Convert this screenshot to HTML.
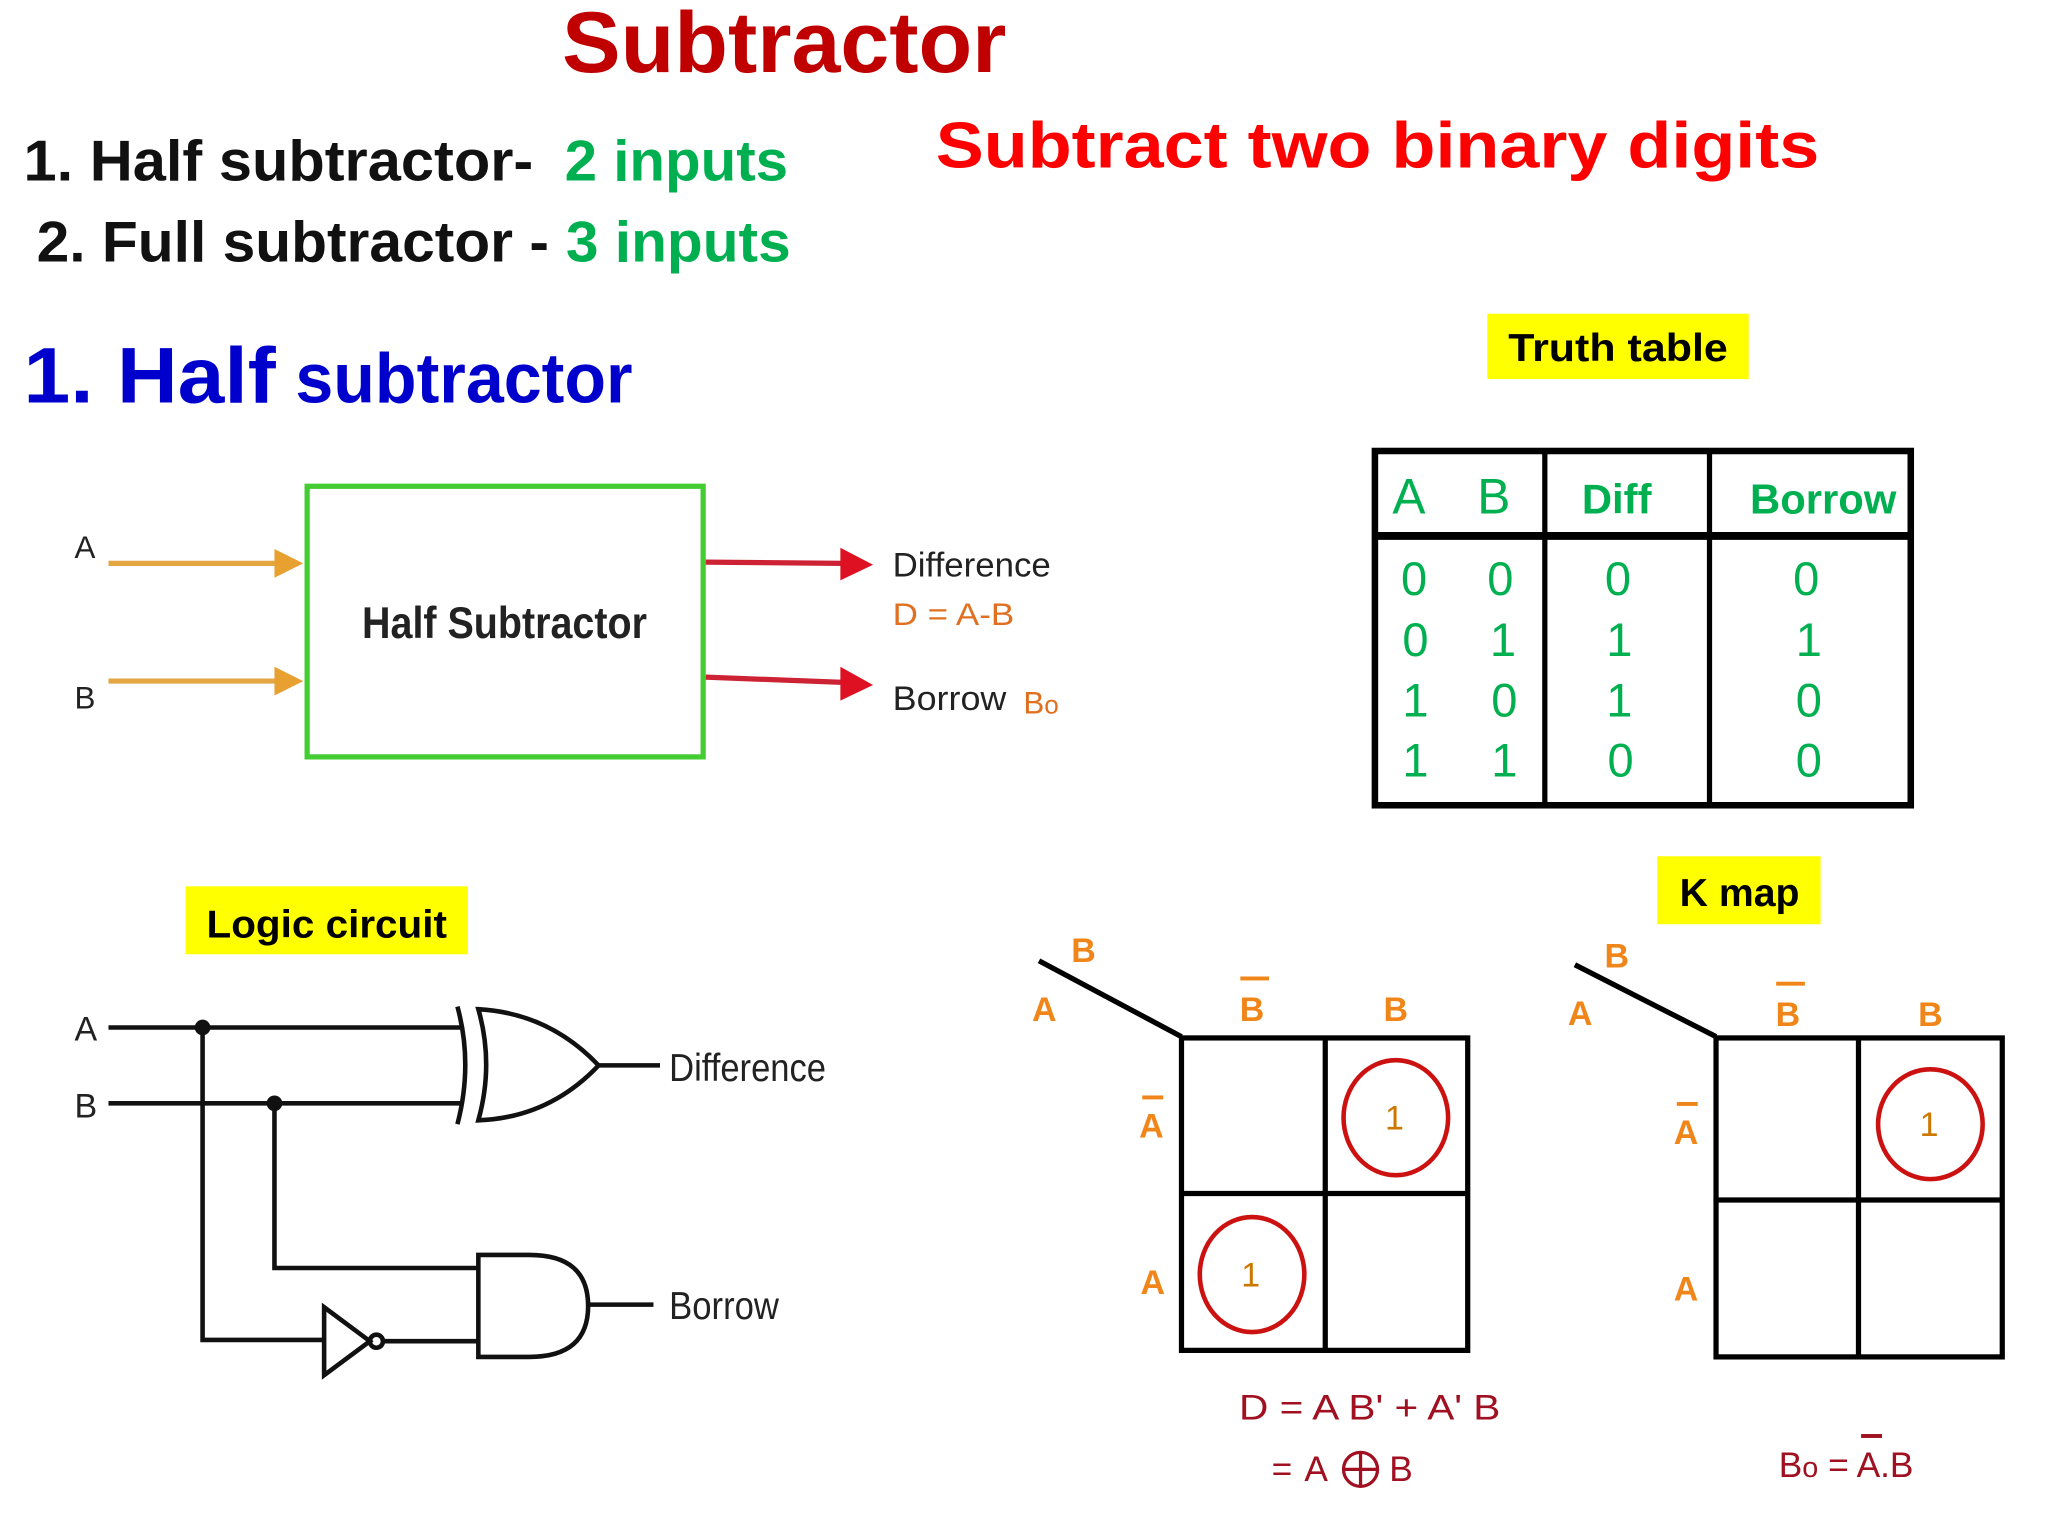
<!DOCTYPE html>
<html><head><meta charset="utf-8"><style>
html,body{margin:0;padding:0;background:#fff;width:2048px;height:1536px;overflow:hidden}
svg{display:block}
text{font-family:"Liberation Sans",sans-serif}
</style></head><body>
<svg width="2048" height="1536" viewBox="0 0 1567 1175" preserveAspectRatio="none" xmlns="http://www.w3.org/2000/svg">
<!-- Titles -->
<text x="430" y="55" font-size="66" font-weight="bold" fill="#c00000" textLength="340" lengthAdjust="spacingAndGlyphs">Subtractor</text>
<text x="18" y="138" font-size="44" font-weight="bold" fill="#111" textLength="390" lengthAdjust="spacingAndGlyphs">1. Half subtractor-</text>
<text x="432" y="138" font-size="44" font-weight="bold" fill="#00b050" textLength="171" lengthAdjust="spacingAndGlyphs">2 inputs</text>
<text x="28" y="200" font-size="44" font-weight="bold" fill="#111" textLength="392" lengthAdjust="spacingAndGlyphs">2. Full subtractor -</text>
<text x="433" y="200" font-size="44" font-weight="bold" fill="#00b050" textLength="172" lengthAdjust="spacingAndGlyphs">3 inputs</text>
<text x="716" y="128" font-size="50" font-weight="bold" fill="#ff0000" textLength="676" lengthAdjust="spacingAndGlyphs">Subtract two binary digits</text>
<text x="18" y="308" font-size="60" font-weight="bold" fill="#0000cc" textLength="193" lengthAdjust="spacingAndGlyphs">1. Half</text>
<text x="226" y="308" font-size="54" font-weight="bold" fill="#0000cc" textLength="258" lengthAdjust="spacingAndGlyphs">subtractor</text>

<!-- Truth table -->
<rect x="1138" y="240" width="200" height="50" fill="#ffff00"/>
<text x="1238" y="276" font-size="30" font-weight="bold" fill="#000" text-anchor="middle" textLength="168" lengthAdjust="spacingAndGlyphs">Truth table</text>
<rect x="1052" y="345" width="410" height="271" fill="none" stroke="#000" stroke-width="5"/>
<line x1="1052" y1="410" x2="1462" y2="410" stroke="#000" stroke-width="6"/>
<line x1="1182" y1="345" x2="1182" y2="616" stroke="#000" stroke-width="4"/>
<line x1="1308" y1="345" x2="1308" y2="616" stroke="#000" stroke-width="4"/>
<g fill="#00b050" font-size="38">
<text x="1078" y="393" text-anchor="middle">A</text>
<text x="1143" y="393" text-anchor="middle">B</text>
<text x="1237" y="393" text-anchor="middle" font-size="32" font-weight="bold">Diff</text>
<text x="1395" y="393" text-anchor="middle" font-size="32" font-weight="bold">Borrow</text>
<g text-anchor="middle" font-size="36">
<text x="1082" y="455">0</text><text x="1148" y="455">0</text><text x="1238" y="455">0</text><text x="1382" y="455">0</text>
<text x="1083" y="502">0</text><text x="1150" y="502">1</text><text x="1239" y="502">1</text><text x="1384" y="502">1</text>
<text x="1083" y="548">1</text><text x="1151" y="548">0</text><text x="1239" y="548">1</text><text x="1384" y="548">0</text>
<text x="1083" y="594">1</text><text x="1151" y="594">1</text><text x="1240" y="594">0</text><text x="1384" y="594">0</text>
</g></g>

<!-- Block diagram -->
<rect x="235" y="372" width="303" height="207" fill="none" stroke="#44cc33" stroke-width="4"/>
<text x="386" y="488" font-family="Liberation Serif,serif" font-size="34" font-weight="bold" fill="#222" text-anchor="middle" textLength="218" lengthAdjust="spacingAndGlyphs">Half Subtractor</text>
<line x1="83" y1="431" x2="212" y2="431" stroke="#e3a640" stroke-width="4"/>
<path d="M210,420 L232,431 L210,442 Z" fill="#e8a030"/>
<line x1="83" y1="521" x2="212" y2="521" stroke="#e3a640" stroke-width="4"/>
<path d="M210,510 L232,521 L210,532 Z" fill="#e8a030"/>
<text x="57" y="427" font-size="24" fill="#222">A</text>
<text x="57" y="542" font-size="24" fill="#222">B</text>
<line x1="540" y1="430" x2="645" y2="431" stroke="#cc2233" stroke-width="4"/>
<path d="M643,419 L668,432 L643,444 Z" fill="#dd1122"/>
<line x1="540" y1="518" x2="645" y2="522" stroke="#cc2233" stroke-width="4"/>
<path d="M643,510 L668,524 L643,536 Z" fill="#dd1122"/>
<text x="683" y="441" font-size="26" fill="#222" textLength="121" lengthAdjust="spacingAndGlyphs">Difference</text>
<text x="683" y="478" font-size="24" fill="#e07020" textLength="93" lengthAdjust="spacingAndGlyphs">D = A-B</text>
<text x="683" y="543" font-size="26" fill="#222" textLength="87" lengthAdjust="spacingAndGlyphs">Borrow</text>
<text x="783" y="546" font-size="24" fill="#e07020">B<tspan font-size="20">o</tspan></text>

<!-- Logic circuit -->
<rect x="142" y="678" width="216" height="52" fill="#ffff00"/>
<text x="250" y="717" font-size="30" font-weight="bold" fill="#000" text-anchor="middle" textLength="184" lengthAdjust="spacingAndGlyphs">Logic circuit</text>
<g stroke="#111" stroke-width="3.5" fill="none">
<line x1="83" y1="786" x2="352" y2="786"/>
<line x1="83" y1="844" x2="352" y2="844"/>
<path d="M350,770 Q362,814 350,860"/>
<path d="M366,772 Q378,814 366,857 Q420,855 458,815 Q420,775 366,772 Z"/>
<line x1="458" y1="815" x2="505" y2="815"/>
<path d="M210,844 L210,970 L365,970"/>
<path d="M155,786 L155,1025 L248,1025"/>
<path d="M248,1000 L248,1052 L283,1026 Z"/>
<circle cx="288" cy="1026" r="5"/>
<line x1="293" y1="1026" x2="366" y2="1026"/>
<path d="M366,960 L405,960 Q450,960 450,999 Q450,1038 405,1038 L366,1038 Z"/>
<line x1="450" y1="998" x2="500" y2="998"/>
</g>
<circle cx="155" cy="786" r="6" fill="#111"/>
<circle cx="210" cy="844" r="6" fill="#111"/>
<text x="57" y="796" font-size="26" fill="#222">A</text>
<text x="57" y="855" font-size="26" fill="#222">B</text>
<text x="512" y="827" font-size="30" fill="#222" textLength="120" lengthAdjust="spacingAndGlyphs">Difference</text>
<text x="512" y="1009" font-size="30" fill="#222" textLength="84" lengthAdjust="spacingAndGlyphs">Borrow</text>

<!-- K map -->
<rect x="1268" y="655" width="125" height="52" fill="#ffff00"/>
<text x="1331" y="693" font-size="30" font-weight="bold" fill="#000" text-anchor="middle">K map</text>

<g stroke="#000" stroke-width="4" fill="none">
<line x1="795" y1="735" x2="904" y2="793"/>
<rect x="904" y="794" width="219" height="239"/>
<line x1="1014" y1="794" x2="1014" y2="1033"/>
<line x1="904" y1="913" x2="1123" y2="913"/>
<line x1="1205" y1="738" x2="1313" y2="793"/>
<rect x="1313" y="794" width="219" height="244"/>
<line x1="1422" y1="794" x2="1422" y2="1038"/>
<line x1="1313" y1="918" x2="1532" y2="918"/>
</g>
<g stroke="#cc1111" stroke-width="3.5" fill="none">
<ellipse cx="1068" cy="855" rx="40" ry="44"/>
<ellipse cx="958" cy="975" rx="40" ry="44"/>
<ellipse cx="1477" cy="860" rx="40" ry="42"/>
</g>
<g fill="#f0861a" font-size="26" font-weight="bold" text-anchor="middle">
<text x="829" y="736">B</text><text x="799" y="781">A</text>
<text x="958" y="781">B</text><rect x="949" y="747" width="22" height="3"/>
<text x="1068" y="781">B</text>
<text x="881" y="870">A</text><rect x="874" y="838" width="16" height="3"/>
<text x="882" y="990">A</text>
<text x="1237" y="740">B</text><text x="1209" y="784">A</text>
<text x="1368" y="785">B</text><rect x="1359" y="751" width="22" height="3"/>
<text x="1477" y="785">B</text>
<text x="1290" y="875">A</text><rect x="1283" y="843" width="16" height="3"/>
<text x="1290" y="995">A</text>
</g>
<g fill="#cc7700" font-size="26" text-anchor="middle">
<text x="1067" y="864">1</text><text x="957" y="984">1</text><text x="1476" y="869">1</text>
</g>
<g fill="#a01020" font-size="27">
<text x="948" y="1086" textLength="200" lengthAdjust="spacingAndGlyphs">D  = A B' + A' B</text>
<text x="973" y="1133">=</text>
<text x="998" y="1133">A</text>
<text x="1063" y="1133">B</text>
<text x="1361" y="1130">B<tspan font-size="22">o</tspan> = A.B</text>
<rect x="1424" y="1097" width="16" height="3"/>
</g>
<g stroke="#a01020" stroke-width="2.5" fill="none">
<circle cx="1041" cy="1124" r="13"/>
<line x1="1028" y1="1124" x2="1054" y2="1124"/>
<line x1="1041" y1="1111" x2="1041" y2="1137"/>
</g>
</svg>
</body></html>
